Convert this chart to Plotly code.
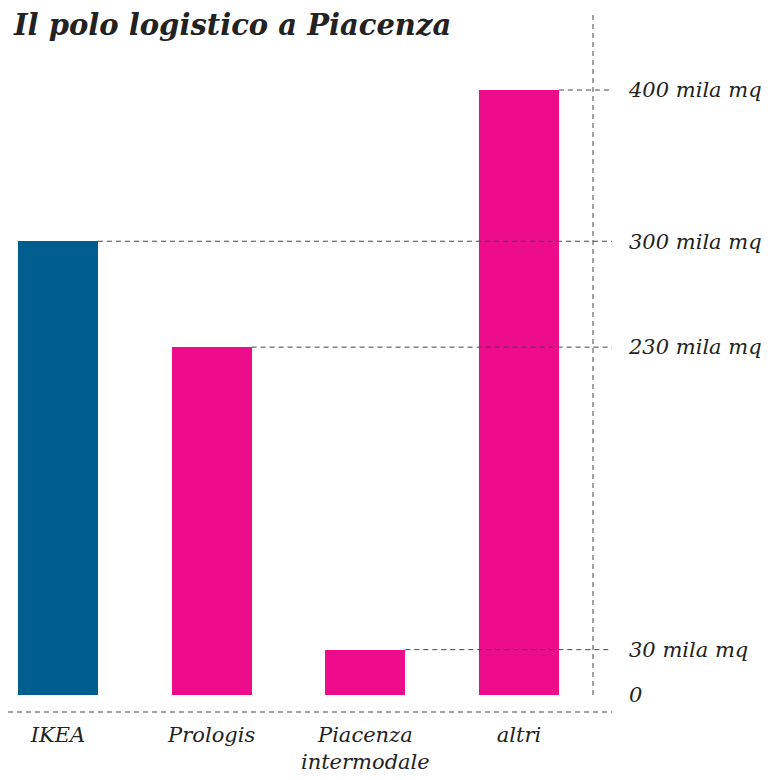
import plotly.graph_objects as go

# Data
categories = ["IKEA", "Prologis", "Piacenza<br>intermodale", "altri"]
values = [300, 230, 30, 400]
colors = ["#005e8f", "#ec0c8c", "#ec0c8c", "#ec0c8c"]
tick_values = [0, 30, 230, 300, 400]
tick_labels = ["0", "30 mila mq", "230 mila mq", "300 mila mq", "400 mila mq"]

# page has an 8px body margin; work in figure coordinates
OFF = 8
W, H = 774 - OFF, 780 - OFF
plot_left, plot_right = 0, 612 - OFF
plot_top, plot_bottom = 15 - OFF, 712 - OFF
zero_px = 695 - OFF
px_per_cat = 153.67
x_min = -(58 - OFF - plot_left) / px_per_cat
x_max = x_min + (plot_right - plot_left) / px_per_cat
px_per_val = 605 / 400
y_min = -(plot_bottom - zero_px) / px_per_val
y_max = (zero_px - plot_top) / px_per_val
bar_w = 0.52

xs = list(range(len(categories)))
fig = go.Figure()
fig.add_trace(go.Bar(x=xs, y=values, marker=dict(color=colors, line=dict(width=0)),
                     width=bar_w, hoverinfo="skip"))

dash = "5px,4px"
lc = "#444444"
shapes = []
for x, v in zip(xs, values):
    shapes.append(dict(type="line", xref="x", yref="y", x0=x + bar_w / 2, x1=x_max,
                       y0=v, y1=v, line=dict(color=lc, width=1, dash=dash)))
# vertical axis line
vx = x_min + (593 - OFF - plot_left) / px_per_cat
shapes.append(dict(type="line", xref="x", yref="y", x0=vx, x1=vx, y0=0, y1=y_max,
                   line=dict(color=lc, width=1, dash=dash)))
# baseline
shapes.append(dict(type="line", xref="paper", yref="paper", x0=0, x1=1, y0=0, y1=0,
                   line=dict(color=lc, width=1, dash=dash)))

fig.update_layout(
    width=W, height=H,
    margin=dict(l=plot_left, r=W - plot_right, t=plot_top, b=H - plot_bottom),
    paper_bgcolor="white", plot_bgcolor="white",
    showlegend=False,
    bargap=0,
    shapes=shapes,
    title=dict(text="Il polo logistico a Piacenza", xref="container", yref="container",
               x=(14 - OFF) / W, xanchor="left", y=1 - (25 - OFF) / H, yanchor="middle",
               font=dict(family="DejaVu Serif", size=29, weight="bold", style="italic",
                         color="#222222")),
    xaxis=dict(range=[x_min, x_max], tickvals=xs, ticktext=categories,
               showgrid=False, zeroline=False, showline=False, ticks="",
               ticklabelstandoff=8,
               tickfont=dict(family="DejaVu Serif", size=21, style="italic", color="#222222")),
    yaxis=dict(range=[y_min, y_max], side="right", tickvals=tick_values, ticktext=tick_labels,
               showgrid=False, zeroline=False, showline=False, ticks="",
               ticklabelstandoff=16,
               tickfont=dict(family="DejaVu Serif", size=21, style="italic", color="#222222")),
)

fig.write_html("out.html")
